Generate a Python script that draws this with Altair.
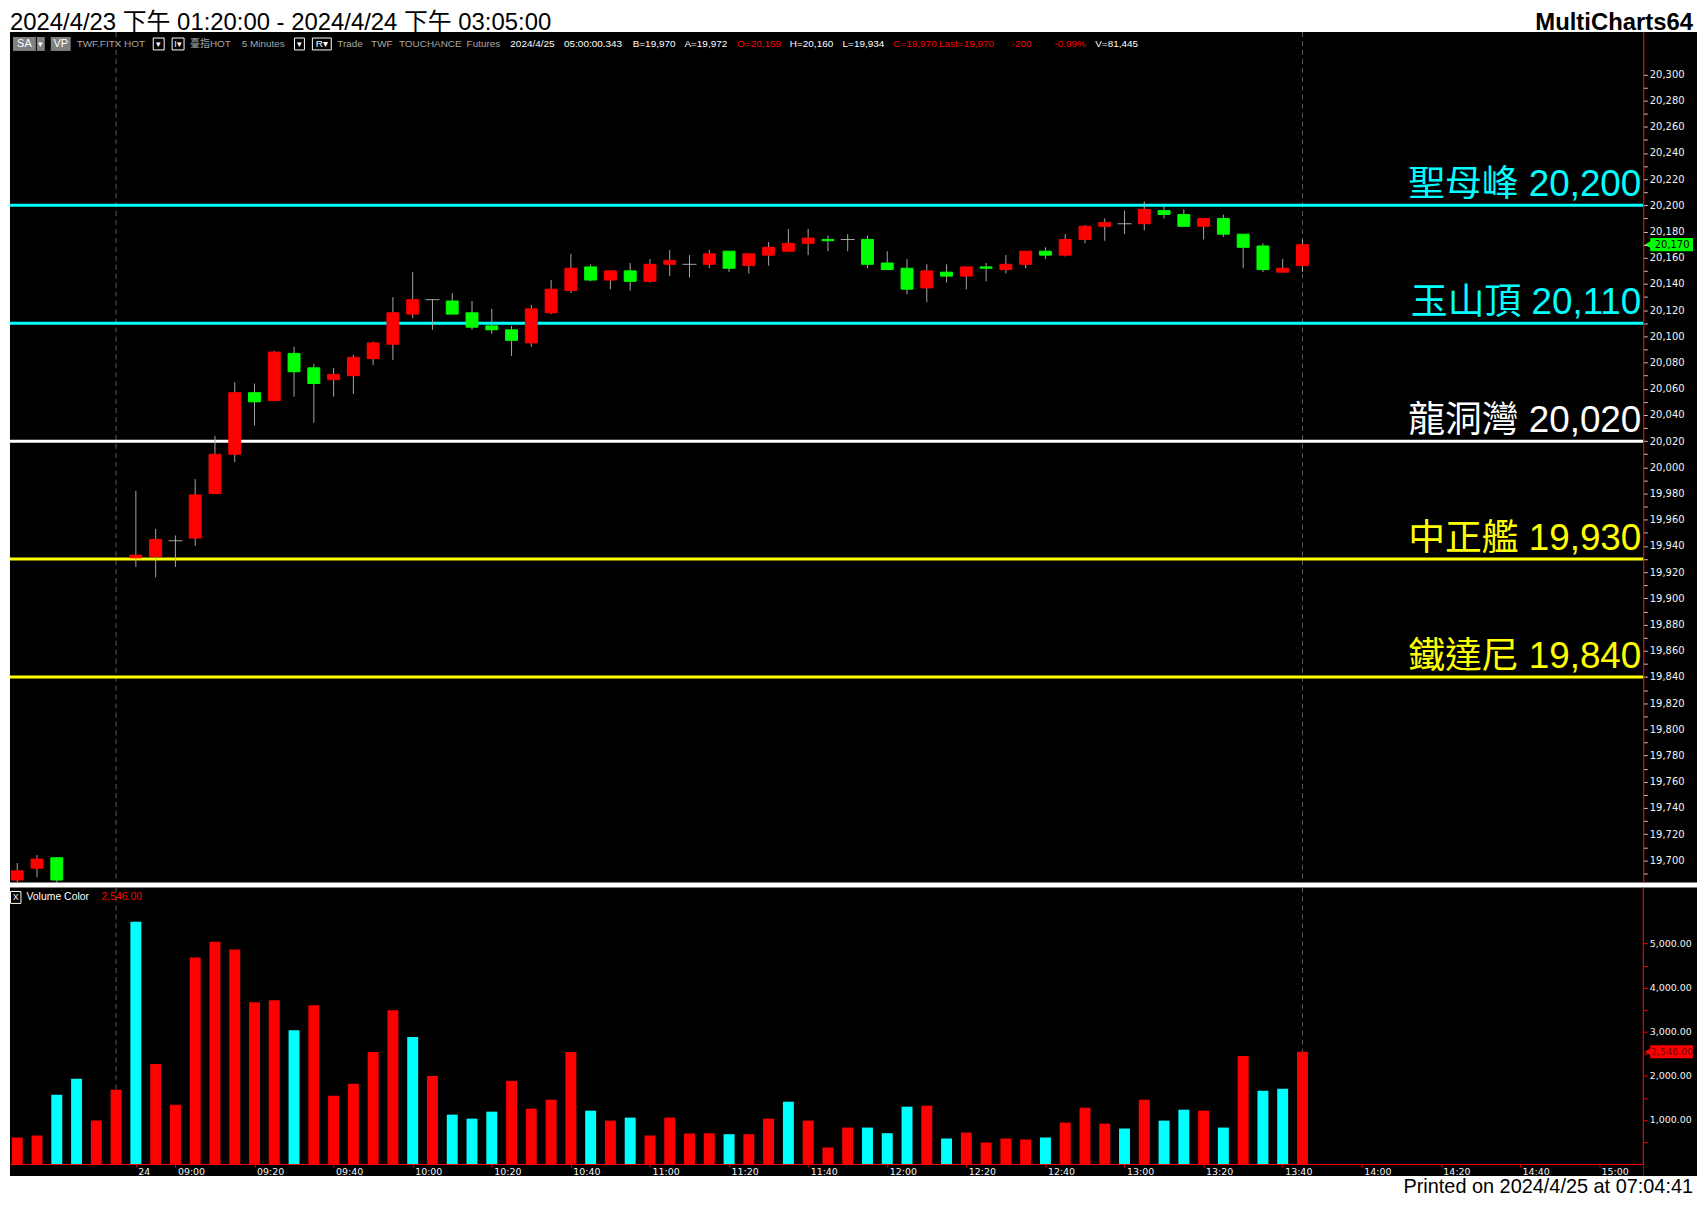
import altair as alt
import pandas as pd

# ---------------- data ----------------
# 5-minute bar index: 0-5 = end of 4/23 session, 6 = first bar of 4/24 (08:50) ... 65 = 13:45
CANDLE_IDX = [0, 1, 2, 6, 7, 8, 9, 10, 11, 12, 13, 14, 15, 16, 17, 18, 19, 20, 21, 22, 23, 24, 25,
              26, 27, 28, 29, 30, 31, 32, 33, 34, 35, 36, 37, 38, 39, 40, 41, 42, 43, 44, 45, 46,
              47, 48, 49, 50, 51, 52, 53, 54, 55, 56, 57, 58, 59, 60, 61, 62, 63, 64, 65]
OPEN = [19685, 19694, 19702, 19931, 19932, 19944, 19946, 19980, 20010, 20057, 20051, 20087, 20076,
        20067, 20070, 20083, 20094, 20117, 20128, 20127, 20118, 20108, 20105, 20095, 20118, 20135,
        20153, 20143, 20150, 20142, 20155, 20155, 20155, 20165, 20154, 20162, 20165, 20171, 20174,
        20174, 20174, 20156, 20152, 20137, 20149, 20146, 20153, 20151, 20155, 20165, 20162, 20174,
        20184, 20186, 20186, 20196, 20193, 20184, 20190, 20178, 20169, 20149, 20154]
HIGH = [19698, 19704, 19702, 19982, 19953, 19948, 19991, 20024, 20065, 20064, 20089, 20092, 20079,
        20076, 20086, 20096, 20130, 20149, 20128, 20133, 20127, 20121, 20108, 20124, 20143, 20163,
        20155, 20150, 20156, 20159, 20166, 20162, 20166, 20165, 20163, 20172, 20182, 20182, 20177,
        20178, 20177, 20165, 20159, 20155, 20155, 20153, 20156, 20162, 20165, 20168, 20178, 20185,
        20190, 20196, 20203, 20199, 20197, 20190, 20193, 20178, 20171, 20159, 20174]
LOW = [19680, 19687, 19680, 19924, 19916, 19924, 19940, 19980, 20004, 20032, 20051, 20054, 20034,
       20054, 20056, 20078, 20082, 20114, 20105, 20117, 20105, 20102, 20085, 20092, 20117, 20133,
       20142, 20136, 20135, 20141, 20146, 20145, 20152, 20149, 20148, 20154, 20165, 20162, 20165,
       20165, 20152, 20151, 20132, 20126, 20141, 20136, 20142, 20148, 20152, 20159, 20161, 20171,
       20173, 20178, 20181, 20190, 20184, 20174, 20176, 20152, 20149, 20149, 20149]
CLOSE = [19692, 19701, 19685, 19933, 19945, 19944, 19979, 20010, 20057, 20050, 20088, 20073, 20064,
         20071, 20084, 20095, 20118, 20128, 20128, 20117, 20107, 20105, 20097, 20121, 20136, 20152,
         20143, 20150, 20142, 20155, 20158, 20155, 20163, 20152, 20163, 20168, 20171, 20175, 20173,
         20174, 20155, 20151, 20136, 20150, 20146, 20153, 20152, 20155, 20165, 20162, 20174, 20184,
         20187, 20186, 20197, 20193, 20184, 20190, 20178, 20168, 20151, 20152, 20170]

VOL_IDX = list(range(66))
VOLUME = [602, 647, 1571, 1932, 985, 1684, 5496, 2271, 1346, 4684,
          5045, 4865, 3669, 3714, 3038, 3602, 1549, 1820, 2541, 3489,
          2880, 2000, 1120, 1030, 1188, 1887, 1256, 1459, 2541, 1211,
          985, 1053, 647, 1053, 692, 699, 677, 677, 1030, 1414,
          985, 376, 827, 827, 699, 1301, 1323, 579, 714, 489,
          579, 556, 602, 940, 1278, 917, 805, 1459, 985, 1233,
          1211, 827, 2451, 1662, 1707, 2546]
VOL_SIDE = ["R", "R", "C", "C", "R", "R", "C", "R", "R", "R",
            "R", "R", "R", "R", "C", "R", "R", "R", "R", "R",
            "C", "R", "C", "C", "C", "R", "R", "R", "R", "C",
            "R", "C", "R", "R", "R", "R", "C", "R", "R", "C",
            "R", "R", "R", "C", "C", "C", "R", "C", "R", "R",
            "R", "R", "C", "R", "R", "R", "C", "R", "C", "C",
            "R", "C", "R", "C", "C", "R"]

LEVEL_NAMES = ["聖母峰", "玉山頂", "龍洞灣", "中正艦", "鐵達尼"]
LEVEL_VALUES = [20200, 20110, 20020, 19930, 19840]

SEPARATOR_IDX = [5, 65]
TIME_TICK_IDX = [6, 8, 12, 16, 20, 24, 28, 32, 36, 40, 44, 48, 52, 56, 60, 64, 68, 72, 76, 80]
TIME_TICK_LABELS = ["24", "09:00", "09:20", "09:40", "10:00", "10:20", "10:40", "11:00", "11:20",
                    "11:40", "12:00", "12:20", "12:40", "13:00", "13:20", "13:40", "14:00",
                    "14:20", "14:40", "15:00"]
PRICE_TICKS = list(range(19690, 20301, 10))
VOL_TICKS = [500, 1000, 1500, 2000, 2500, 3000, 3500, 4000, 4500, 5000]

# ---------------- styles / layout ----------------
LEVEL_COLORS = {"聖母峰": "#00FFFF", "玉山頂": "#00FFFF", "龍洞灣": "#FFFFFF",
                "中正艦": "#FFFF00", "鐵達尼": "#FFFF00"}
VOL_COLORS = {"R": "#FF0000", "C": "#00FFFF"}
FONT = "Liberation Sans, Arial, Noto Sans CJK TC, sans-serif"
AFONT = "DejaVu Sans, Liberation Sans, sans-serif"
GREY_TXT = "#A8A8A8"
AXIS_TXT = "#F4F4F4"
WICK = "#A6A6A6"

W, PH, VH = 1642, 855, 290
R = 1692  # right-most x used by text in view coordinates
xs = alt.Scale(domain=[-0.115, 81.985], nice=False, zero=False)
ps = alt.Scale(domain=[19683.1, 20332.3], nice=False, zero=False)
vs = alt.Scale(domain=[-271, 6275], nice=False, zero=False)

price_axis = alt.Axis(orient="right", values=PRICE_TICKS,
                      labelExpr="datum.value % 20 == 0 ? format(datum.value, ',') : ''",
                      domainColor="#FF0000", tickColor="#D0D0D0", tickSize=4,
                      labelColor=AXIS_TXT, labelFontSize=10, labelFont=AFONT, labelPadding=2,
                      grid=False, title=None, labelBound=False, labelOverlap=False, zindex=2)

expr = "''"
for idx, lab in reversed(list(zip(TIME_TICK_IDX, TIME_TICK_LABELS))):
    expr = f"datum.value == {idx} ? '{lab}' : ({expr})"
time_axis = alt.Axis(orient="bottom", offset=-12, values=TIME_TICK_IDX, labelExpr=expr,
                     domainColor="#FF0000", tickColor="#FF0000", tickSize=3,
                     labelColor=AXIS_TXT, labelFontSize=9.5, labelFont=AFONT, labelAlign="left",
                     labelBaseline="top", labelPadding=0, labelOffset=2, labelFlush=False,
                     labelOverlap=False, labelBound=False, grid=False, title=None, zindex=2)
vol_axis = alt.Axis(orient="right", values=VOL_TICKS,
                    labelExpr="datum.value % 1000 == 0 ? format(datum.value, ',.2f') : ''",
                    domain=False, tickColor="#FF0000", tickSize=4, labelColor=AXIS_TXT,
                    labelFontSize=9.5, labelFont=AFONT, labelPadding=2, grid=False, title=None,
                    labelOverlap=False, labelBound=False, zindex=2)


def px(field):
    return alt.X(field, type="quantitative", scale=xs, axis=None)


def py(field):
    return alt.Y(field, type="quantitative", scale=ps, axis=price_axis)


def tx(field):
    return alt.X(field, type="quantitative", scale=xs, axis=time_axis)


def vy(field):
    return alt.Y(field, type="quantitative", scale=vs, axis=vol_axis)


ONE = pd.DataFrame({"k": [0]})


def note(s, x, y, color, size=10, align="left", weight="normal", baseline="middle", font=FONT):
    return alt.Chart(ONE).mark_text(text=s, align=align, baseline=baseline, color=color,
                                    fontSize=size, fontWeight=weight, font=font).encode(
        x=alt.value(x), y=alt.value(y))


def box(x1, x2, y1, y2, fill, stroke=""):
    kw = dict(fill=fill)
    if stroke:
        kw.update(stroke=stroke, strokeWidth=1)
    return alt.Chart(ONE).mark_rect(**kw).encode(
        x=alt.value(x1), x2=alt.value(x2), y=alt.value(y1), y2=alt.value(y2))


# ---------------- frames ----------------
candles = pd.DataFrame({"i": CANDLE_IDX, "O": OPEN, "H": HIGH, "L": LOW, "C": CLOSE})
levels = pd.DataFrame({"name": LEVEL_NAMES, "level": LEVEL_VALUES})
levels["label"] = [f"{n} {v:,}" for n, v in zip(LEVEL_NAMES, LEVEL_VALUES)]
levels["col"] = levels["name"].map(LEVEL_COLORS)
seps = pd.DataFrame({"i": SEPARATOR_IDX})
vol = pd.DataFrame({"i": VOL_IDX, "v": VOLUME, "side": VOL_SIDE})
vol["col"] = vol["side"].map(VOL_COLORS)
last_p = pd.DataFrame({"p": [CLOSE[-1]]})
last_v = pd.DataFrame({"v": [VOLUME[-1]]})

# ---------------- price pane ----------------
p_layers = []
# black band behind the price scale (right of the plot)
p_layers.append(box(W, R + 4, 0, PH, "#000000"))
p_layers.append(alt.Chart(seps).mark_rule(color="#5C5C5C", strokeDash=[5, 4]).encode(
    x=px("i"), y=alt.value(0), y2=alt.value(PH)))
p_layers.append(alt.Chart(levels).mark_rule(strokeWidth=3).encode(
    y=py("level"), color=alt.Color("col:N", scale=None)))
p_layers.append(alt.Chart(levels).mark_text(align="right", baseline="alphabetic", dy=-9,
                                             fontSize=37, font=FONT).encode(
    x=alt.value(W - 2), y=py("level"), text="label:N", color=alt.Color("col:N", scale=None)))
p_layers.append(alt.Chart(candles).mark_rule(color=WICK, strokeWidth=1, clip=True).encode(
    x=px("i"), y=py("L"), y2="H:Q"))
p_layers.append(alt.Chart(candles).transform_filter("datum.O != datum.C").transform_calculate(
    col="datum.C > datum.O ? '#FF0000' : '#00FF00'").mark_bar(
    width=12, strokeWidth=1, orient="vertical", clip=True).encode(
    x=px("i"), y=py("O"), y2="C:Q", color=alt.Color("col:N", scale=None),
    stroke=alt.Stroke("col:N", scale=None)))
p_layers.append(alt.Chart(candles).transform_filter("datum.O == datum.C").mark_tick(
    orient="horizontal", size=14, thickness=1, color=WICK, opacity=1, clip=True).encode(
    x=px("i"), y=py("O")))
# last price tag
p_layers.append(alt.Chart(last_p).transform_calculate(hi="datum.p + 5", lo="datum.p - 5").mark_rect(
    color="#00FF00").encode(x=alt.value(W + 7), x2=alt.value(R), y=py("hi"), y2="lo:Q"))
p_layers.append(alt.Chart(last_p).mark_point(shape="triangle-left", filled=True, size=70, opacity=1,
                                             color="#00FF00", strokeWidth=0).encode(
    x=alt.value(W + 5), y=py("p")))
p_layers.append(alt.Chart(last_p).mark_text(color="#000000", fontSize=10, font=AFONT,
                                            align="center", baseline="middle").encode(
    x=alt.value(W + 29), y=py("p"), text=alt.Text("p:Q", format=",")))

# toolbar row
TY = 12
p_layers += [
    box(3, 26, 5, 19, "#808080"), note("SA", 14.5, TY, "#FFFFFF", 11, "center"),
    box(27, 35, 5, 19, "#808080"), note("▾", 31, TY, "#FFFFFF", 9, "center"),
    box(41, 61, 5, 19, "#808080"), note("VP", 51, TY, "#FFFFFF", 11, "center"),
    note("TWF.FITX HOT", 67, TY, GREY_TXT),
    box(144, 155, 6, 18, "#000000", "#FFFFFF"), note("▾", 149.5, TY, "#FFFFFF", 9, "center"),
    box(163, 175, 6, 18, "#000000", "#FFFFFF"), note("I▾", 169, TY, "#FFFFFF", 9, "center"),
    note("臺指HOT", 181, TY, GREY_TXT), note("5 Minutes", 233, TY, GREY_TXT),
    box(286, 296, 6, 18, "#000000", "#FFFFFF"), note("▾", 291, TY, "#FFFFFF", 9, "center"),
    box(304, 323, 6, 18, "#000000", "#FFFFFF"), note("R▾", 313.5, TY, "#FFFFFF", 10, "center"),
]
for s, x, c in [("Trade", 329, GREY_TXT), ("TWF", 363, GREY_TXT), ("TOUCHANCE", 391, GREY_TXT),
                ("Futures", 459, GREY_TXT), ("2024/4/25", 503, "#FFFFFF"),
                ("05:00:00.343", 557, "#FFFFFF"), ("B=19,970", 626, "#FFFFFF"),
                ("A=19,972", 678, "#FFFFFF"), ("O=20,159", 731, "#FF0000"),
                ("H=20,160", 784, "#FFFFFF"), ("L=19,934", 837, "#FFFFFF"),
                ("C=19,970", 888, "#FF0000"), ("Last=19,970", 934, "#FF0000"),
                ("-200", 1007, "#FF0000"), ("-0.99%", 1050, "#FF0000"),
                ("V=81,445", 1091, "#FFFFFF")]:
    p_layers.append(note(s, x, TY, c))

# window title bar
p_layers.append(note("2024/4/23 下午 01:20:00 - 2024/4/24 下午 03:05:00", 0, -21, "#000000", 24,
                     baseline="top"))
p_layers.append(note("MultiCharts64", R, -21, "#000000", 24, "right", "bold", "top"))

price = alt.layer(*p_layers).properties(width=W, height=PH)

# ---------------- volume pane ----------------
v_layers = []
v_layers.append(box(W, R + 4, 0, VH, "#000000"))
v_layers.append(alt.Chart(seps).mark_rule(color="#5C5C5C", strokeDash=[5, 4]).encode(
    x=tx("i"), y=alt.value(0), y2=alt.value(VH - 12)))
v_layers.append(alt.Chart(vol).mark_bar(width=11, orient="vertical", clip=True).encode(
    x=tx("i"), y=vy("v"), y2=alt.datum(0), color=alt.Color("col:N", scale=None)))
v_layers.append(alt.Chart(ONE).mark_rule(color="#FF0000", strokeWidth=1).encode(
    x=alt.value(W), y=alt.value(0), y2=alt.value(VH - 12)))
v_layers.append(alt.Chart(last_v).transform_calculate(hi="datum.v + 147", lo="datum.v - 147").mark_rect(
    color="#FF0000").encode(x=alt.value(W + 7), x2=alt.value(R), y=vy("hi"), y2="lo:Q"))
v_layers.append(alt.Chart(last_v).mark_point(shape="triangle-left", filled=True, size=70, opacity=1,
                                             color="#FF0000", strokeWidth=0).encode(
    x=alt.value(W + 5), y=vy("v")))
v_layers.append(alt.Chart(last_v).mark_text(color="#700000", fontSize=9.5, font=AFONT,
                                            align="center", baseline="middle").encode(
    x=alt.value(W + 29), y=vy("v"), text=alt.Text("v:Q", format=",.2f")))
v_layers += [
    box(0.5, 11, 4, 16, "#000000", "#FFFFFF"), note("X", 5.8, 10, "#FFFFFF", 9, "center"),
    note("Volume Color", 16.5, 10, "#FFFFFF", 10.5),
    note("2,546.00", 92, 10, "#FF0000", 10.5),
    note("Printed on 2024/4/25 at 07:04:41", R, 307, "#000000", 20, "right",
         baseline="alphabetic"),
]
volume = alt.layer(*v_layers).properties(width=W, height=VH)

chart = alt.vconcat(price, volume, spacing=3).resolve_scale(
    x="independent", y="independent").properties(
    background="#FFFFFF", padding=0).configure_view(
    fill="#000000", stroke=None).configure_axis(labelColor=AXIS_TXT)

chart.save("out.html", embed_options={"renderer": "svg", "actions": False})
